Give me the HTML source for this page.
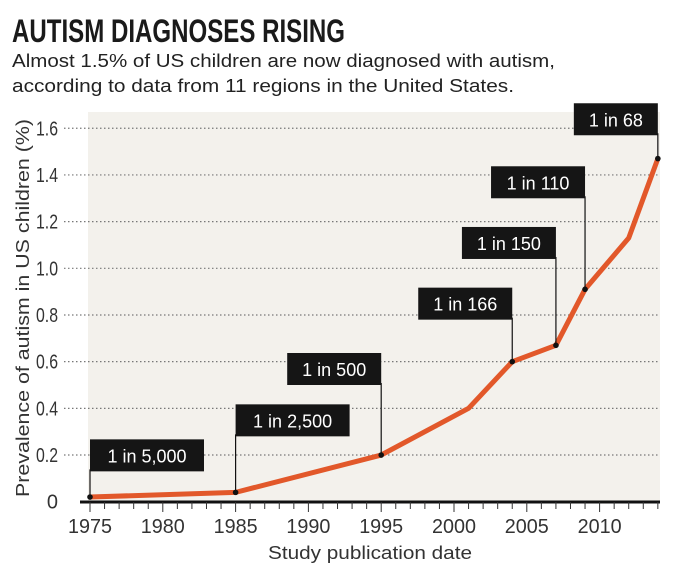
<!DOCTYPE html>
<html><head><meta charset="utf-8"><style>
body{margin:0;background:#fff;}
svg{display:block;font-family:"Liberation Sans",sans-serif;}
</style></head><body>
<svg width="678" height="570" viewBox="0 0 678 570">
<text x="12" y="42" font-family="Liberation Sans Narrow, Liberation Sans, sans-serif" font-weight="bold" font-size="32" fill="#1a1a1a" textLength="333" lengthAdjust="spacingAndGlyphs">AUTISM DIAGNOSES RISING</text>
<text x="12" y="67" font-size="18" fill="#222" textLength="543" lengthAdjust="spacingAndGlyphs">Almost 1.5% of US children are now diagnosed with autism,</text>
<text x="12" y="92" font-size="18" fill="#222" textLength="502" lengthAdjust="spacingAndGlyphs">according to data from 11 regions in the United States.</text>
<rect x="88" y="112" width="572" height="390" fill="#f3f1ec"/>
<g id="grid"></g><g id="yt"></g><g id="xt"></g><g id="line"></g><g id="labels"></g>
<text transform="translate(29,308) rotate(-90)" text-anchor="middle" font-size="18" fill="#333" textLength="378" lengthAdjust="spacingAndGlyphs">Prevalence of autism in US children (%)</text>
<text x="370" y="559" text-anchor="middle" font-size="18" fill="#333" textLength="204" lengthAdjust="spacingAndGlyphs">Study publication date</text>
</svg>
<script>
const years=[1975,1985,1995,2001,2004,2007,2009,2012,2014];
const values=[0.02,0.04,0.2,0.4,0.6,0.67,0.91,1.13,1.47];
const yTicks=[0,0.2,0.4,0.6,0.8,1.0,1.2,1.4,1.6];
const yTickLabels=["0","0.2","0.4","0.6","0.8","1.0","1.2","1.4","1.6"];
const xTickLabels=[1975,1980,1985,1990,1995,2000,2005,2010];
const calloutYears=[1975,1985,1995,2004,2007,2009,2014];
const calloutValues=[0.02,0.04,0.2,0.6,0.67,0.91,1.47];
const calloutText=["1 in 5,000","1 in 2,500","1 in 500","1 in 166","1 in 150","1 in 110","1 in 68"];
const calloutBoxBase=[0.13,0.28,0.50,0.78,1.04,1.30,1.57];
const calloutSide=["left","left","right","right","right","right","right"];
const NS="http://www.w3.org/2000/svg";
const X=y=>90+(y-1975)*14.56;
const Y=v=>501.7-v*233.4;
function mk(p,t,a){const e=document.createElementNS(NS,t);for(const k in a)e.setAttribute(k,a[k]);document.getElementById(p).appendChild(e);return e;}
yTicks.forEach((v,i)=>{
 if(v>0){const g=mk('grid','line',{x1:64,x2:660,y1:Y(v),y2:Y(v),stroke:'#777','stroke-width':1.2,'stroke-dasharray':'1.5 2.5'});
 
 }
 const a={x:58,y:Y(v)+7,'text-anchor':'end','font-size':20,fill:'#333'};
 if(yTickLabels[i].length>1){a.textLength=22;a.lengthAdjust='spacingAndGlyphs';}
 const t=mk('yt','text',a);t.textContent=yTickLabels[i];
 
 
});
const ax=mk('xt','line',{x1:80,x2:660,y1:502,y2:502,stroke:'#111','stroke-width':3});


for(let y=1975;y<=2014;y++){const tk=mk('xt','line',{x1:X(y),x2:X(y),y1:502,y2:(y%5==0?512:509),stroke:'#333','stroke-width':1});
 
 }
xTickLabels.forEach(y=>{const t=mk('xt','text',{x:X(y),y:533,'text-anchor':'middle','font-size':20,fill:'#333',textLength:44,lengthAdjust:'spacingAndGlyphs'});t.textContent=y;
 
 });
const pl=mk('line','polyline',{points:years.map((y,i)=>X(y)+','+Y(values[i])).join(' '),fill:'none',stroke:'#e2582a','stroke-width':5,'stroke-linejoin':'round'});


calloutYears.forEach((y,i)=>{
 const px=X(y),py=Y(calloutValues[i]);const w=calloutText[i].length>8?114:(calloutText[i].length>7?94:84);
 const bx=calloutSide[i]=='left'?px:px-w;const by=Y(calloutBoxBase[i])-32;
 const ln=mk('labels','line',{x1:px,x2:px,y1:by+30,y2:py,stroke:'#111','stroke-width':1.2});
 
 
 const r=mk('labels','rect',{x:bx,y:by,width:w,height:32,fill:'#151515'});
 
 
 const t=mk('labels','text',{x:bx+w/2,y:by+23,'text-anchor':'middle','font-size':18,fill:'#fff'});t.textContent=calloutText[i];
 
 
 const d=mk('labels','circle',{cx:px,cy:py,r:2.8,fill:'#111'});
 
 
});
</script>
</body></html>
